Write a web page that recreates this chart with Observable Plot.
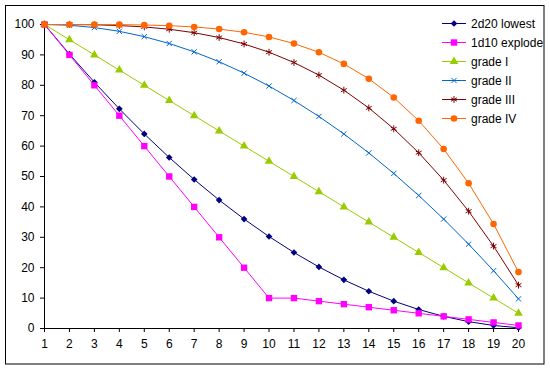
<!DOCTYPE html>
<html><head><meta charset="utf-8">
<script src="https://cdn.jsdelivr.net/npm/d3@7"></script>
<script src="https://cdn.jsdelivr.net/npm/@observablehq/plot@0.6"></script>
<style>
body{margin:0;background:#fff}
#chart svg{font-family:"Liberation Sans",Arial,sans-serif;display:block}
</style>
</head><body><div id="chart"></div>
<script>
// Categories (target number)
const rolls = [1,2,3,4,5,6,7,8,9,10,11,12,13,14,15,16,17,18,19,20];

// Series values (%)
const lowest2d20 = [100,90.25,81,72.25,64,56.25,49,42.25,36,30.25,25,20.25,16,12.25,9,6.25,4,2.25,1,0.25];
const explode1d10 = [100,90,80,70,60,50,40,30,20,10,10,9,8,7,6,5,4,3,2,1];
const gradeI = [100,95,90,85,80,75,70,65,60,55,50,45,40,35,30,25,20,15,10,5];
const gradeII = [100,99.75,99,97.75,96,93.75,91,87.75,84,79.75,75,69.75,64,57.75,51,43.75,36,27.75,19,9.75];
const gradeIII = [100,99.99,99.9,99.66,99.2,98.44,97.3,95.71,93.6,90.89,87.5,83.36,78.4,72.54,65.7,57.81,48.8,38.59,27.1,14.26];
const gradeIV = [100,100,99.99,99.95,99.84,99.61,99.19,98.5,97.44,95.9,93.75,90.85,87.04,82.15,75.99,68.36,59.04,47.8,34.39,18.55];

const seriesNames = ["2d20 lowest","1d10 explode","grade I","grade II","grade III","grade IV"];
const seriesValues = [lowest2d20, explode1d10, gradeI, gradeII, gradeIII, gradeIV];
const seriesColors = ["#000080","#FF00FF","#99CC00","#0066CC","#800000","#FF6600"];
const seriesSymbols = ["diamond2","square","triangle","times","asterisk","circle"];
const seriesFilled = [true,true,true,false,false,true];
const seriesR = [3.0,3.6,3.2,2.5,3.2,3.3];

const xTicks = rolls;
const yTicks = [0,10,20,30,40,50,60,70,80,90,100];

const marks = [
  Plot.axisY({ticks: yTicks, tickSize: 4, tickPadding: 6, label: null}),
  Plot.axisX({ticks: xTicks, tickSize: 4, tickPadding: 7, tickFormat: d => String(d), label: null}),
  Plot.ruleY([0], {stroke: "black"}),
  Plot.ruleX([1], {stroke: "black"})
];
seriesNames.forEach((name, i) => {
  const rows = rolls.map((r, j) => ({roll: r, value: seriesValues[i][j]}));
  marks.push(Plot.line(rows, {x: "roll", y: "value", stroke: seriesColors[i], strokeWidth: 1}));
  marks.push(Plot.dot(rows, {
    x: "roll", y: "value", symbol: () => seriesSymbols[i], r: seriesR[i],
    fill: seriesFilled[i] ? seriesColors[i] : "none",
    stroke: seriesFilled[i] ? "none" : seriesColors[i],
    strokeWidth: 1
  }));
});

const chart = Plot.plot({
  width: 550, height: 370,
  marginLeft: 44, marginRight: 32, marginTop: 24, marginBottom: 42,
  style: {fontSize: "12px", fontFamily: "'Liberation Sans', Arial, sans-serif", background: "#fff", color: "#000"},
  x: {type: "linear", domain: [1, 20], label: null},
  y: {domain: [0, 100], label: null},
  symbol: {type: "identity"},
  marks
});
document.getElementById("chart").appendChild(chart);

// Outer chart border and legend
const svg = d3.select(chart);
svg.append("rect").attr("x", 5.5).attr("y", 5.5).attr("width", 538.5).attr("height", 358.5)
  .attr("fill", "none").attr("stroke", "black");

const symbolMap = {diamond2: d3.symbolDiamond2, square: d3.symbolSquare, triangle: d3.symbolTriangle,
  times: d3.symbolTimes, asterisk: d3.symbolAsterisk, circle: d3.symbolCircle};
const lg = svg.append("g").attr("text-anchor", "start");
seriesNames.forEach((name, i) => {
  const y = 23.5 + 19 * i;
  const g = lg.append("g").attr("transform", `translate(0,${y})`);
  g.append("line").attr("x1", 442).attr("x2", 466).attr("y1", 0).attr("y2", 0)
    .attr("stroke", seriesColors[i]).attr("stroke-width", 1);
  g.append("path").attr("transform", "translate(454,0)")
    .attr("d", d3.symbol(symbolMap[seriesSymbols[i]], Math.PI * seriesR[i] * seriesR[i])())
    .attr("fill", seriesFilled[i] ? seriesColors[i] : "none")
    .attr("stroke", seriesFilled[i] ? "none" : seriesColors[i]);
  g.append("text").attr("x", 471).attr("y", 0).attr("dy", "0.35em")
    .attr("text-anchor", "start").attr("font-size", 12).attr("fill", "black").text(name);
});
</script>
</body></html>
